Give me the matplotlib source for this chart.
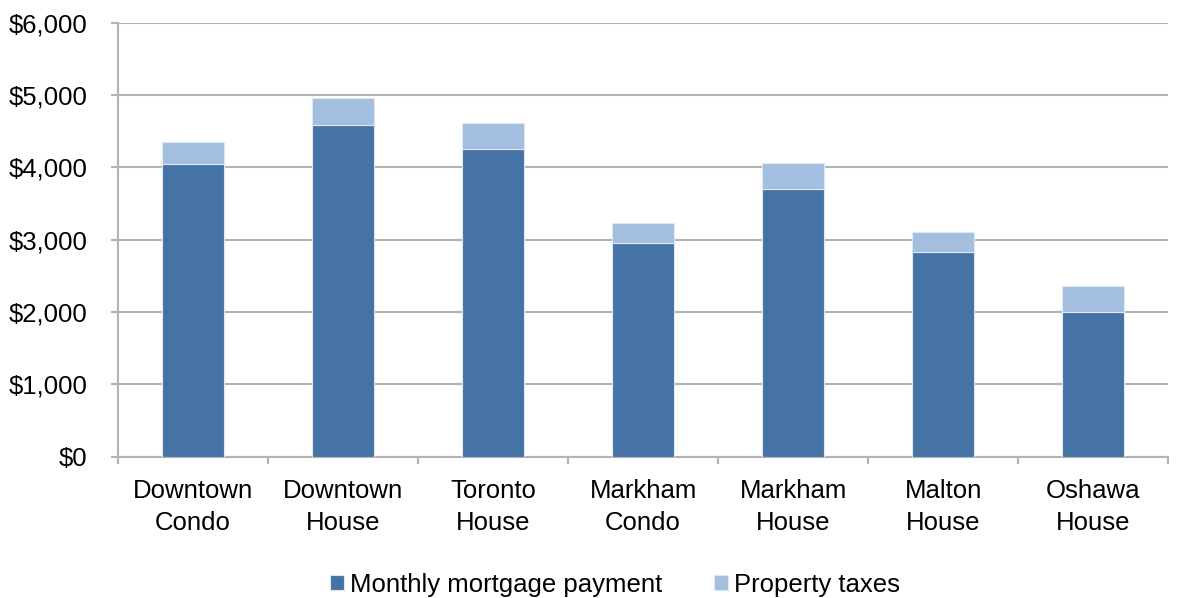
import matplotlib
matplotlib.use('Agg')
import matplotlib.pyplot as plt
import numpy as np
from matplotlib.ticker import FuncFormatter, FixedLocator

plt.rcParams['font.family'] = ['Liberation Sans', 'DejaVu Sans']

# Data
categories = ['Downtown\nCondo', 'Downtown\nHouse', 'Toronto\nHouse', 'Markham\nCondo',
              'Markham\nHouse', 'Malton\nHouse', 'Oshawa\nHouse']
mortgage = [4040, 4580, 4260, 2950, 3700, 2830, 2005]
taxes = [310, 375, 360, 285, 365, 280, 360]
series_labels = ['Monthly mortgage payment', 'Property taxes']
y_ticks = [0, 1000, 2000, 3000, 4000, 5000, 6000]

dark_blue = '#4573a5'
light_blue = '#a3bedf'
grid_grey = '#b3b3b3'
fs = 18.5

fig = plt.figure(figsize=(11.86, 5.98), dpi=100)
ax = fig.add_axes([0.0995, 0.2363, 0.8855, 0.7257])

x = np.arange(len(categories))
bw = 0.41
b1 = ax.bar(x, mortgage, width=bw, color=dark_blue, edgecolor='#dfe8f3', linewidth=0.8,
            label=series_labels[0], zorder=3)
b2 = ax.bar(x, taxes, width=bw, bottom=mortgage, color=light_blue, edgecolor='#dfe8f3',
            linewidth=0.8, label=series_labels[1], zorder=3)

ax.set_xlim(-0.5, len(categories) - 0.5)
ax.set_ylim(0, 6000)
ax.set_yticks(y_ticks)
ax.yaxis.set_major_formatter(FuncFormatter(lambda v, p: f'${v:,.0f}'))
ax.grid(True, axis='y', color=grid_grey, linewidth=1.5, zorder=0)

# category labels centred, tick marks at the category boundaries
ax.set_xticks(x)
ax.set_xticklabels(categories, fontsize=fs, linespacing=1.42)
ax.tick_params(axis='x', which='major', length=0, pad=16)
ax.xaxis.set_minor_locator(FixedLocator(np.arange(len(categories) + 1) - 0.5))
ax.tick_params(axis='x', which='minor', length=5, width=1.5, color=grid_grey)
ax.tick_params(axis='y', length=5, width=1.5, color=grid_grey, labelsize=fs, pad=17)

for side in ['top', 'right']:
    ax.spines[side].set_visible(False)
for side in ['left', 'bottom']:
    ax.spines[side].set_color(grid_grey)
    ax.spines[side].set_linewidth(1.5)

fig.legend(handles=[b1, b2], loc='center', bbox_to_anchor=(0.5186, 0.022), ncol=2,
           frameon=False, fontsize=fs, handlelength=0.55, handleheight=0.55,
           handletextpad=0.25, columnspacing=2.0)

plt.savefig('out.png', dpi=100)
